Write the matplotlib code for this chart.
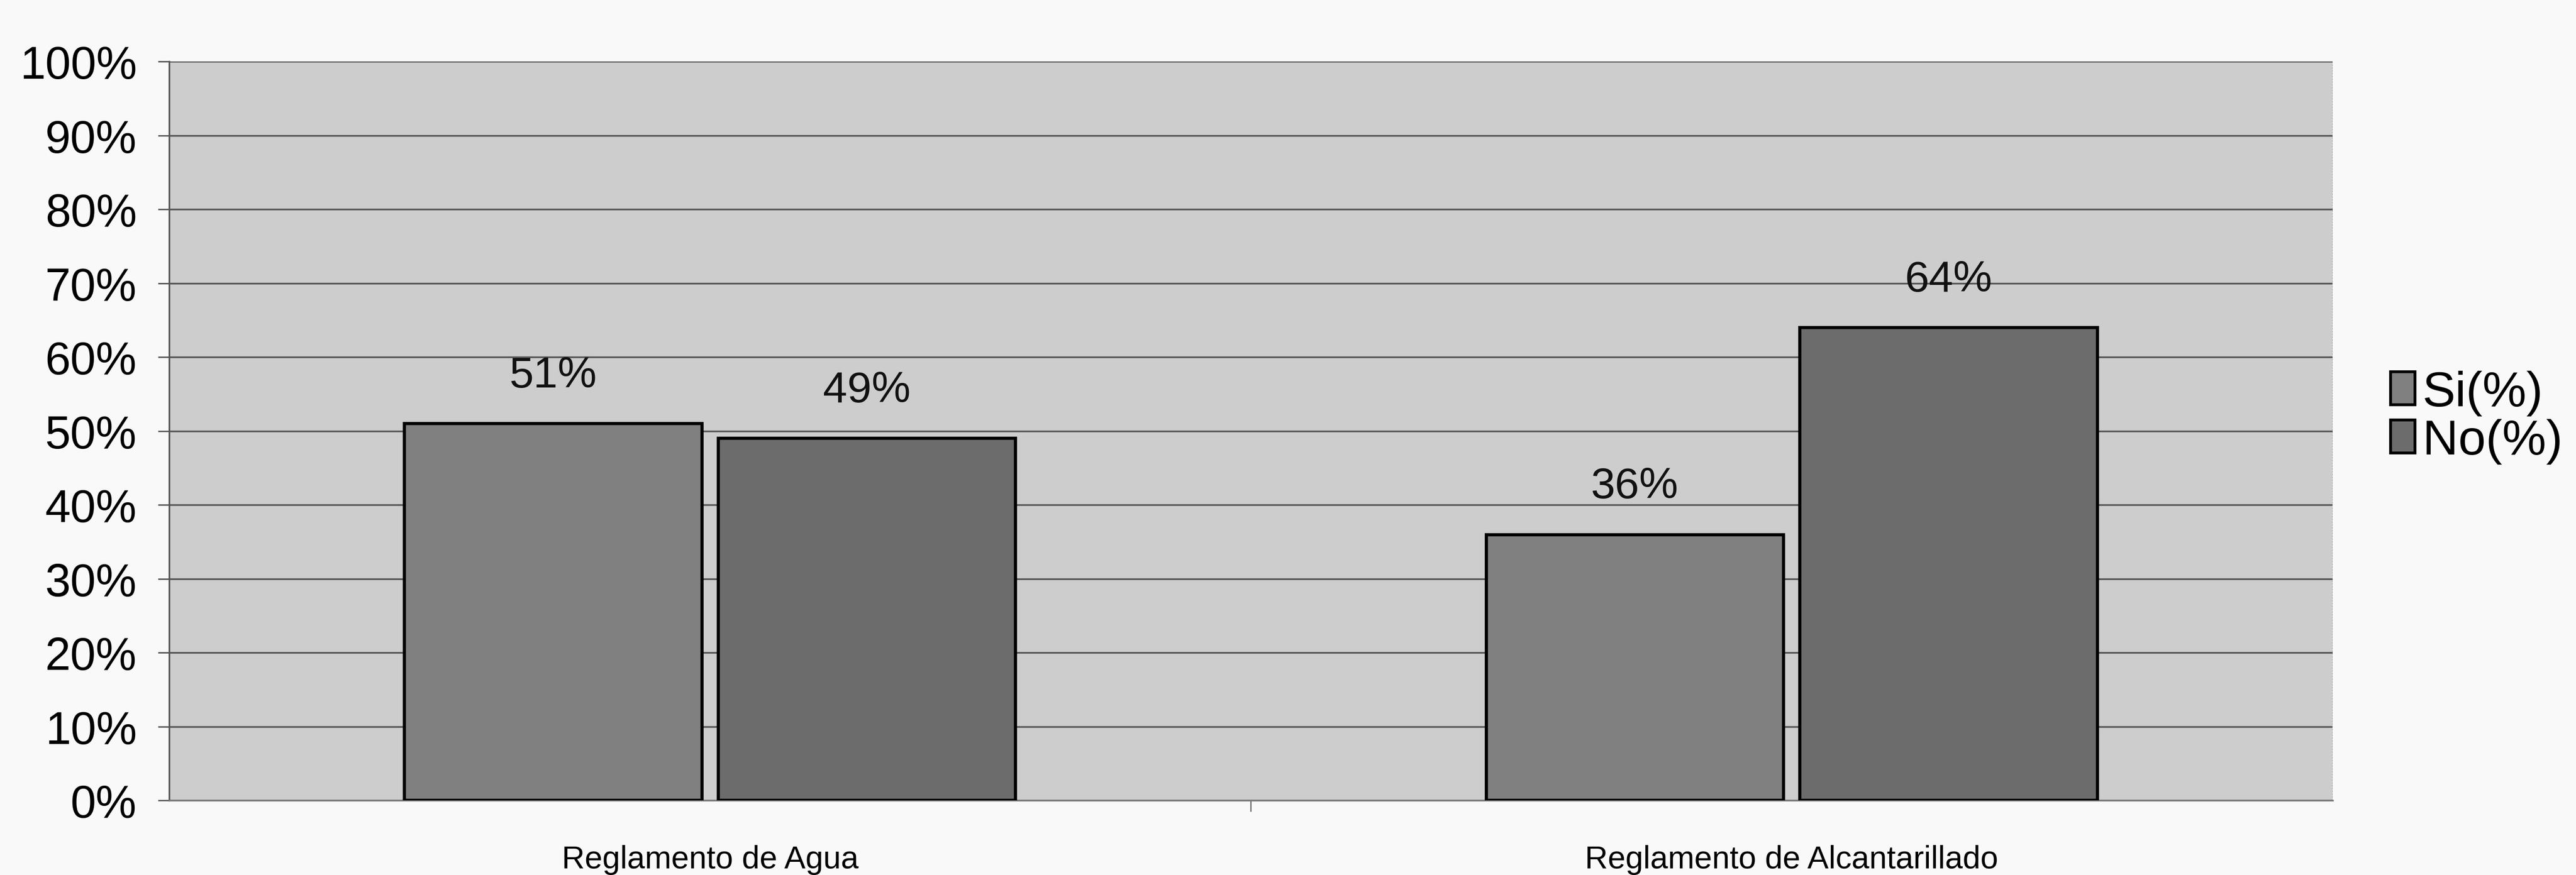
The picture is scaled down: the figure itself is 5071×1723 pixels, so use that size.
import matplotlib
matplotlib.use("Agg")
import matplotlib.pyplot as plt
import numpy as np
from matplotlib.ticker import PercentFormatter

categories = ["Reglamento de Agua", "Reglamento de Alcantarillado"]
series_names = ["Si(%)", "No(%)"]
si_values = [51, 36]
no_values = [49, 64]
y_ticks = [0, 10, 20, 30, 40, 50, 60, 70, 80, 90, 100]

plt.rcParams['font.family'] = ['Liberation Sans', 'DejaVu Sans']

fig = plt.figure(figsize=(50.71, 17.24), dpi=100, facecolor="#f9f9f9")
ax = fig.add_axes([0.0657, 0.085, 0.8398, 0.844])
ax.set_facecolor("#cdcdcd")

x = np.arange(len(categories))
w = 0.275
off = 0.145
colors = ["#808080", "#6c6c6c"]
bars_si = ax.bar(x - off, si_values, w, color=colors[0], edgecolor="black", linewidth=4.5, label=series_names[0], zorder=3)
bars_no = ax.bar(x + off, no_values, w, color=colors[1], edgecolor="black", linewidth=4.5, label=series_names[1], zorder=3)

for bars, vals in ((bars_si, si_values), (bars_no, no_values)):
    for b, v in zip(bars, vals):
        ax.annotate(f"{v}%", (b.get_x() + b.get_width() / 2, v), xytext=(0, 68),
                    textcoords="offset points", ha="center", va="center", fontsize=62, color="#111111")

ax.set_xlim(-0.5, 1.5)
ax.set_ylim(0, 100)
ax.set_yticks(y_ticks)
ax.yaxis.set_major_formatter(PercentFormatter(decimals=0))
ax.yaxis.grid(True, color="#555555", linewidth=2.4, zorder=1)
ax.set_xticks(x)
ax.set_xticklabels(categories)
ax.set_xticks([0.5], minor=True)
ax.tick_params(axis="x", which="major", length=0, pad=62, labelsize=45)
ax.tick_params(axis="x", which="minor", length=16, width=2, color="#777777", direction="out")
ax.tick_params(axis="y", which="major", length=16, width=2, color="#555555", pad=30, labelsize=65)

for s in ("top", "right"):
    ax.spines[s].set_visible(False)
ax.spines["left"].set_color("#555555")
ax.spines["left"].set_linewidth(2.4)
ax.spines["bottom"].set_color("#777777")
ax.spines["bottom"].set_linewidth(2.4)
ax.axvline(1.5, color="#999999", linewidth=1.5, linestyle=":", zorder=2)

leg = fig.legend(loc="center left", bbox_to_anchor=(0.928, 0.523), frameon=False,
                 fontsize=70, handlelength=0.5, handleheight=0.65, handletextpad=0.15,
                 labelspacing=0.05, borderpad=0, borderaxespad=0)
for h in leg.legend_handles:
    h.set_linewidth(4)

fig.savefig("out.png", dpi=100, facecolor=fig.get_facecolor())
